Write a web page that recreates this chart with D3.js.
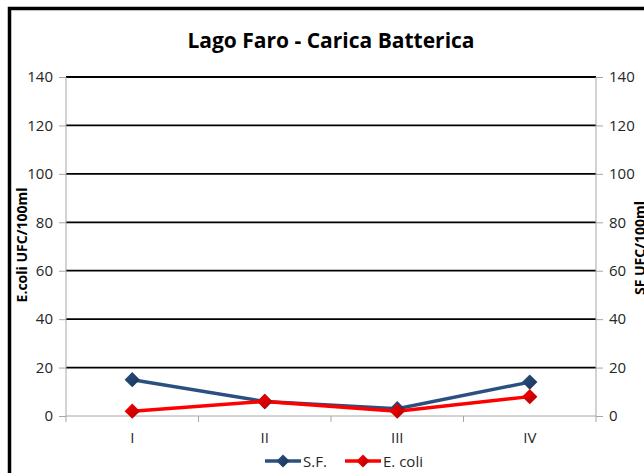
<!DOCTYPE html>
<html>
<head>
<meta charset="utf-8">
<script src="https://cdn.jsdelivr.net/npm/d3@7"></script>
<style>
	body { margin: 0; background: #fff; }
	text { font-family: "Open Sans", "Liberation Sans", sans-serif; }
</style>
</head>
<body>
<div id="chart"></div>
<script>
	var categories = ['I', 'II', 'III', 'IV'];
	var sfValues = [15, 6, 3, 14];
	var ecoliValues = [2, 6, 2, 8];
	var yTicks = [0, 20, 40, 60, 80, 100, 120, 140];

(function() {
	var width = 644, height = 473;
	var plotLeft = 66, plotRight = 596, plotTop = 77, plotBottom = 416;

	var svg = d3.select('#chart').append('svg')
		.attr('width', width)
		.attr('height', height);

	// frame round the chart
	svg.append('rect')
		.attr('x', 9.5).attr('y', 8.5)
		.attr('width', 680).attr('height', 500)
		.attr('fill', 'none')
		.attr('stroke', '#000')
		.attr('stroke-width', 3.5);

	var x = d3.scaleBand().domain(categories).range([plotLeft, plotRight]);
	var y = d3.scaleLinear().domain([0, 140]).range([plotBottom, plotTop]);

	// grid lines
	svg.selectAll('.grid')
		.data(yTicks.filter(function(d){ return d > 0; }))
		.enter().append('line')
		.attr('x1', plotLeft).attr('x2', plotRight)
		.attr('y1', function(d){ return y(d); })
		.attr('y2', function(d){ return y(d); })
		.attr('stroke', '#000')
		.attr('stroke-width', 1.8);

	var leftAxis = svg.append('g')
		.attr('transform', 'translate(' + plotLeft + ',0)')
		.call(d3.axisLeft(y).tickValues(yTicks).tickSize(7).tickPadding(6));
	var rightAxis = svg.append('g')
		.attr('transform', 'translate(' + plotRight + ',0)')
		.call(d3.axisRight(y).tickValues(yTicks).tickSize(7).tickPadding(6));
	var bottomAxis = svg.append('g')
		.attr('transform', 'translate(0,' + plotBottom + ')')
		.call(d3.axisBottom(x).tickSize(0).tickPadding(16));

	// category separators
	svg.selectAll('.sep')
		.data(categories.concat(['end']))
		.enter().append('line')
		.attr('x1', function(d, i){ return plotLeft + i * x.bandwidth(); })
		.attr('x2', function(d, i){ return plotLeft + i * x.bandwidth(); })
		.attr('y1', plotBottom).attr('y2', plotBottom + 6)
		.attr('stroke', '#a6a6a6');

	[leftAxis, rightAxis, bottomAxis].forEach(function(a){
		a.select('.domain').attr('stroke', '#a6a6a6');
		a.selectAll('.tick line').attr('stroke', '#a6a6a6');
		a.selectAll('text')
			.attr('font-size', 15)
			.attr('fill', '#262626')
			.style('font-family', '"Open Sans", sans-serif');
	});
	leftAxis.select('.domain').attr('d', 'M0,' + plotTop + 'V' + plotBottom);
	rightAxis.select('.domain').attr('d', 'M0,' + plotTop + 'V' + plotBottom);
	bottomAxis.select('.domain').attr('d', 'M' + plotLeft + ',0H' + plotRight);

	// title
	svg.append('text')
		.attr('x', 331).attr('y', 48)
		.attr('text-anchor', 'middle')
		.attr('font-size', 21).attr('font-weight', 'bold')
		.attr('fill', '#000')
		.text('Lago Faro - Carica Batterica');

	// axis titles
	svg.append('text')
		.attr('transform', 'translate(27,245) rotate(-90)')
		.attr('text-anchor', 'middle')
		.attr('font-size', 14).attr('font-weight', 'bold')
		.text('E.coli UFC/100ml');
	svg.append('text')
		.attr('transform', 'translate(645,248) rotate(-90)')
		.attr('text-anchor', 'middle')
		.attr('font-size', 14).attr('font-weight', 'bold')
		.text('SF UFC/100ml');

	var series = [
		{name: 'S.F.', values: sfValues, color: '#2a5080', dark: '#183456'},
		{name: 'E. coli', values: ecoliValues, color: '#ff0000', dark: '#b00000'}
	];

	var defs = svg.append('defs');
	series.forEach(function(s, i){
		var g = defs.append('linearGradient').attr('id', 'grad' + i)
			.attr('x1', 0).attr('y1', 0).attr('x2', 1).attr('y2', 1);
		g.append('stop').attr('offset', '0%').attr('stop-color', s.color);
		g.append('stop').attr('offset', '100%').attr('stop-color', s.dark);
	});

	var line = d3.line()
		.x(function(d, i){ return x(categories[i]) + x.bandwidth() / 2; })
		.y(function(d){ return y(d); });

	var diamond = d3.symbol().type(d3.symbolDiamond2).size(150);

	series.forEach(function(s, si){
		svg.append('path')
			.attr('d', line(s.values))
			.attr('fill', 'none')
			.attr('stroke', s.color)
			.attr('stroke-width', 3.5);
		svg.selectAll('.m' + si)
			.data(s.values)
			.enter().append('path')
			.attr('d', diamond)
			.attr('transform', function(d, i){
				return 'translate(' + (x(categories[i]) + x.bandwidth() / 2) + ',' + y(d) + ')';
			})
			.attr('fill', 'url(#grad' + si + ')');
	});

	// legend
	var legendX = [265, 345];
	series.forEach(function(s, si){
		var lg = svg.append('g').attr('transform', 'translate(' + legendX[si] + ',461)');
		lg.append('line').attr('x1', 0).attr('x2', 36)
			.attr('stroke', s.color).attr('stroke-width', 3.5);
		lg.append('path').attr('d', d3.symbol().type(d3.symbolDiamond2).size(110))
			.attr('transform', 'translate(18,0)')
			.attr('fill', 'url(#grad' + si + ')');
		lg.append('text').attr('x', 38).attr('y', 6)
			.attr('font-size', 15).attr('fill', '#262626')
			.text(s.name);
	});
})();
</script>
</body>
</html>
